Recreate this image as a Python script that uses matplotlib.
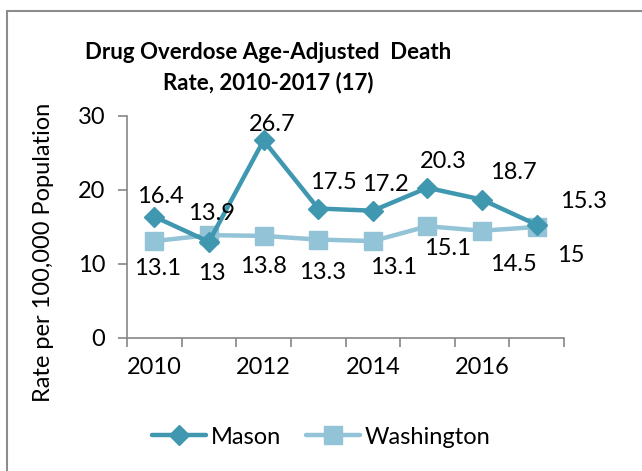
import matplotlib.pyplot as plt
from matplotlib.patches import Rectangle

plt.rcParams['font.family'] = ['Lato', 'DejaVu Sans']

# data
years = [2010, 2011, 2012, 2013, 2014, 2015, 2016, 2017]
mason = [16.4, 13, 26.7, 17.5, 17.2, 20.3, 18.7, 15.3]
washington = [13.1, 13.9, 13.8, 13.3, 13.1, 15.1, 14.5, 15]
tick_years = [2010, 2012, 2014, 2016]

# label offsets (pixels) from each point
mason_off = [(6, 20), (3, -32), (9, 16), (15, 26), (13, 26), (16, 26), (31, 27), (47, 23)]
wash_off = [(3, -27), (3, 22), (0, -31), (4, -33), (21, -26), (20, -22), (31, -34), (34, -28)]

c_mason = '#3f97b0'
c_wash = '#92c3d6'
axis_col = '#868686'

fig = plt.figure(figsize=(6.42, 4.71), dpi=100)
ax = fig.add_axes([127/642, 133/471, 437/642, 222/471])

# frame around the chart
fig.patches.append(Rectangle((7/642, -0.1), 1.2, (471-11)/471 + 0.1,
                             transform=fig.transFigure, fill=False,
                             edgecolor='#8c8c8c', linewidth=1.5))

ax.plot(years, mason, '-D', color=c_mason, lw=3.2, ms=10, label='Mason',
        solid_capstyle='round', zorder=3)
ax.plot(years, washington, '-s', color=c_wash, lw=3.2, ms=13, label='Washington',
        solid_capstyle='round', zorder=2)

for x, v, o in zip(years, mason, mason_off):
    ax.annotate(f'{v:g}', (x, v), xytext=o, textcoords='offset pixels',
                ha='center', va='center', fontsize=17)
for x, v, o in zip(years, washington, wash_off):
    ax.annotate(f'{v:g}', (x, v), xytext=o, textcoords='offset pixels',
                ha='center', va='center', fontsize=17)

ax.set_xlim(2009.5, 2017.5)
ax.set_ylim(0, 30)
ax.set_yticks([0, 10, 20, 30])
ax.set_xticks(tick_years)
ax.set_xticks([y - 0.5 for y in years] + [2017.5], minor=True)
ax.tick_params(axis='x', which='major', length=0, labelsize=17, pad=14)
ax.tick_params(axis='x', which='minor', length=6.5, color=axis_col, width=1.2)
ax.tick_params(axis='y', length=6.5, color=axis_col, width=1.2, labelsize=17, pad=9)

for s in ['top', 'right']:
    ax.spines[s].set_visible(False)
for s in ['left', 'bottom']:
    ax.spines[s].set_color(axis_col)
    ax.spines[s].set_linewidth(1.2)

ax.set_ylabel('Rate per 100,000 Population', fontsize=17)
ax.yaxis.set_label_coords(-(127 - 54) / 437, (338 - 252) / 222)
fig.text(268/642, 1 - 68/471, 'Drug Overdose Age-Adjusted  Death\nRate, 2010-2017 (17)',
         ha='center', va='center', fontsize=16, fontweight='bold', linespacing=1.49)

fig.legend(loc='center', bbox_to_anchor=(0.5, (471-437)/471),
           ncol=2, frameon=False, fontsize=17, handlelength=2.3,
           columnspacing=1.05, handletextpad=0.2)

fig.savefig('out.png', dpi=100)
